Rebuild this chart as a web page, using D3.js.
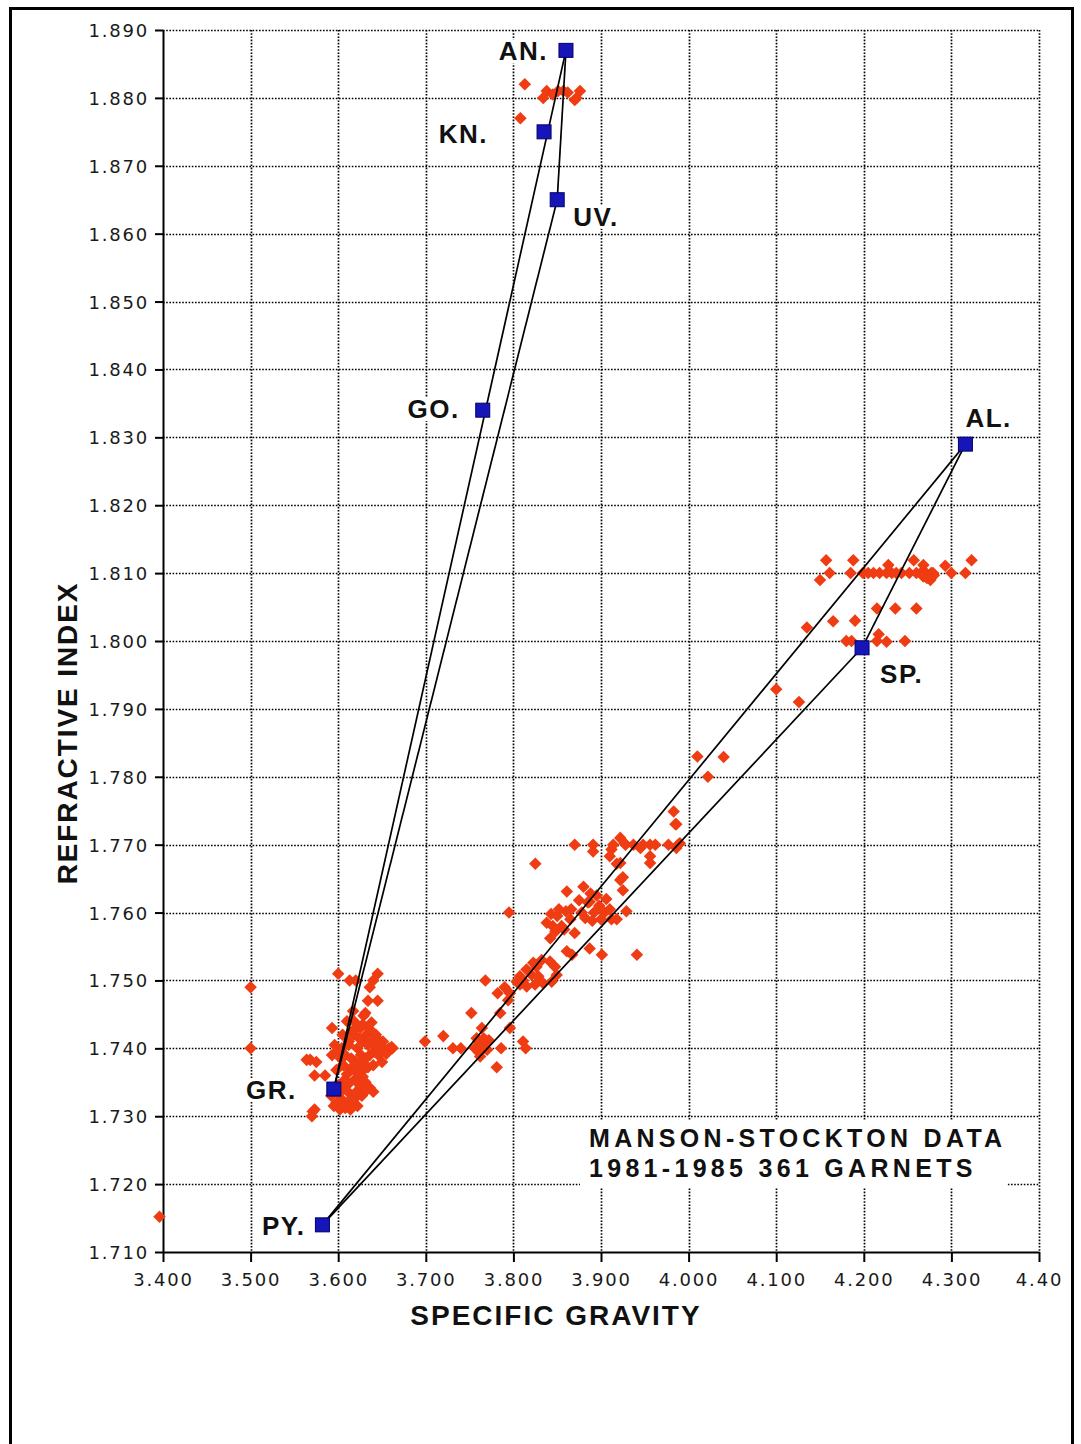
<!DOCTYPE html>
<html>
<head>
<meta charset="utf-8">
<script src="https://cdn.jsdelivr.net/npm/d3@7"></script>
<style>
  body { margin: 0; background: #fff; }
  svg { display: block; }
  .tick-label { font-family: "DejaVu Sans", sans-serif; font-size: 18px; letter-spacing: 1.8px; fill: #1a1a1a; }
  .bold { font-family: "Liberation Sans", Arial, sans-serif; font-weight: bold; fill: #111; }
</style>
</head>
<body>
<script>
const width = 1081,
      height = 1444;

// axis ticks
const xTickValues = [3.4, 3.5, 3.6, 3.7, 3.8, 3.9, 4.0, 4.1, 4.2, 4.3, 4.4];
const xTickLabels = ["3.400", "3.500", "3.600", "3.700", "3.800", "3.900", "4.000", "4.100", "4.200", "4.300", "4.40"];
const yTickValues = [1.71, 1.72, 1.73, 1.74, 1.75, 1.76, 1.77, 1.78, 1.79, 1.80, 1.81, 1.82, 1.83, 1.84, 1.85, 1.86, 1.87, 1.88, 1.89];
const yTickLabels = ["1.710", "1.720", "1.730", "1.740", "1.750", "1.760", "1.770", "1.780", "1.790", "1.800",
                     "1.810", "1.820", "1.830", "1.840", "1.850", "1.860", "1.870", "1.880", "1.890"];

// end members: name, specific gravity, refractive index
const memberNames = ["AN.", "KN.", "UV.", "GO.", "AL.", "SP.", "GR.", "PY."];
const memberSG    = [3.860, 3.835, 3.850, 3.765, 4.316, 4.198, 3.595, 3.582];
const memberRI    = [1.887, 1.875, 1.865, 1.834, 1.829, 1.799, 1.734, 1.714];

// tie lines between end members
const tieLines = [["GR.", "AN."], ["AN.", "UV."], ["UV.", "GR."], ["PY.", "AL."], ["AL.", "SP."], ["SP.", "PY."]];

// measured garnets [SG, RI]
const andraditeGroup = [
  [3.813, 1.882], [3.838, 1.881], [3.834, 1.880], [3.851, 1.881], [3.857, 1.881], [3.872, 1.880],
  [3.876, 1.881], [3.870, 1.8797], [3.808, 1.877], [3.845, 1.8805], [3.862, 1.8808]
];

const grossularGroup = [
  [3.600, 1.751], [3.613, 1.750], [3.620, 1.750], [3.645, 1.751], [3.640, 1.750], [3.636, 1.749],
  [3.634, 1.747], [3.645, 1.747], [3.631, 1.7452], [3.610, 1.744], [3.593, 1.743], [3.625, 1.743],
  [3.617, 1.7455], [3.605, 1.742], [3.612, 1.741], [3.618, 1.742], [3.622, 1.740], [3.628, 1.741],
  [3.632, 1.742], [3.638, 1.741], [3.643, 1.742], [3.648, 1.741], [3.652, 1.740], [3.658, 1.740],
  [3.662, 1.740], [3.608, 1.739], [3.615, 1.7385], [3.620, 1.738], [3.626, 1.739], [3.631, 1.7385],
  [3.636, 1.739], [3.641, 1.7395], [3.646, 1.739], [3.650, 1.738], [3.612, 1.7405], [3.624, 1.7415],
  [3.634, 1.7405], [3.644, 1.740], [3.628, 1.7435], [3.618, 1.744], [3.604, 1.740], [3.640, 1.7375],
  [3.630, 1.737], [3.621, 1.7365], [3.614, 1.737], [3.606, 1.7375], [3.651, 1.741], [3.661, 1.7402],
  [3.616, 1.7425], [3.622, 1.7432], [3.636, 1.7428], [3.642, 1.7412], [3.655, 1.7392], [3.648, 1.7405],
  [3.626, 1.7378], [3.634, 1.7372], [3.610, 1.7362], [3.603, 1.7385], [3.638, 1.7438], [3.629, 1.7448],
  [3.568, 1.7383], [3.575, 1.738], [3.593, 1.739], [3.573, 1.736], [3.585, 1.736], [3.598, 1.7368],
  [3.564, 1.7383], [3.596, 1.7405], [3.600, 1.7395],
  [3.621, 1.7373], [3.619, 1.7354], [3.631, 1.735], [3.636, 1.7342], [3.640, 1.7336], [3.627, 1.733],
  [3.617, 1.733], [3.625, 1.7345], [3.612, 1.7348], [3.628, 1.7358], [3.632, 1.7338],
  [3.592, 1.733], [3.598, 1.732], [3.604, 1.7325], [3.610, 1.732], [3.616, 1.7318], [3.622, 1.7315],
  [3.595, 1.7315], [3.602, 1.731], [3.608, 1.7312], [3.614, 1.731], [3.600, 1.7335], [3.606, 1.734],
  [3.612, 1.7335], [3.618, 1.7325], [3.620, 1.7335], [3.606, 1.7352], [3.599, 1.7345],
  [3.571, 1.7307], [3.570, 1.730], [3.573, 1.731],
  [3.500, 1.749], [3.500, 1.740], [3.396, 1.7152]
];

const pyropeAlmandine = [
  [3.699, 1.741], [3.720, 1.7418], [3.731, 1.740], [3.740, 1.740], [3.752, 1.7452], [3.764, 1.743],
  [3.781, 1.7372], [3.786, 1.740], [3.768, 1.750], [3.782, 1.7481], [3.790, 1.749], [3.785, 1.7452],
  [3.794, 1.7471], [3.796, 1.743], [3.811, 1.741], [3.814, 1.740],
  [3.756, 1.740], [3.760, 1.741], [3.764, 1.7405], [3.768, 1.740], [3.772, 1.7412], [3.760, 1.7395],
  [3.766, 1.7415], [3.770, 1.7398], [3.758, 1.7415], [3.762, 1.7388],
  [3.8075, 1.7506], [3.815, 1.7516], [3.8227, 1.7526], [3.8323, 1.753], [3.8418, 1.7528], [3.8475, 1.752],
  [3.8494, 1.7508], [3.8437, 1.7498], [3.8341, 1.7496], [3.8247, 1.7494], [3.8152, 1.7491], [3.8075, 1.7494],
  [3.8209, 1.7508], [3.8284, 1.7506], [3.8038, 1.7498], [3.811, 1.750], [3.8264, 1.752], [3.796, 1.7481],
  [3.842, 1.7562], [3.861, 1.7543], [3.867, 1.7538], [3.887, 1.7547], [3.901, 1.7538], [3.941, 1.7538],
  [3.845, 1.758], [3.850, 1.7595], [3.855, 1.758], [3.860, 1.7602], [3.865, 1.759], [3.848, 1.7572],
  [3.858, 1.7575], [3.852, 1.7605], [3.843, 1.7598], [3.866, 1.7605], [3.838, 1.7585],
  [3.861, 1.7631], [3.880, 1.7638], [3.887, 1.7616],
  [3.878, 1.760], [3.885, 1.7615], [3.892, 1.760], [3.898, 1.761], [3.904, 1.760], [3.910, 1.7605],
  [3.882, 1.7592], [3.890, 1.7588], [3.900, 1.759], [3.895, 1.7625], [3.906, 1.762], [3.912, 1.759],
  [3.875, 1.7618], [3.888, 1.7628], [3.922, 1.7648], [3.925, 1.7633], [3.929, 1.7602], [3.918, 1.759],
  [3.870, 1.757], [3.825, 1.7672], [3.795, 1.760],
  [3.870, 1.770], [3.891, 1.770], [3.891, 1.769], [3.912, 1.7693], [3.910, 1.7683], [3.922, 1.771],
  [3.927, 1.7702], [3.937, 1.770], [3.945, 1.7695], [3.956, 1.770], [3.962, 1.770], [3.956, 1.7683],
  [3.956, 1.7673], [3.977, 1.770], [3.986, 1.7695], [3.990, 1.7702], [3.985, 1.773], [3.922, 1.7673],
  [3.948, 1.770], [3.918, 1.7672], [3.925, 1.7652], [3.983, 1.7749], [3.986, 1.773], [3.914, 1.770],
  [3.928, 1.770], [3.988, 1.770],
  [4.010, 1.783], [4.040, 1.7829], [4.022, 1.780], [4.100, 1.7929], [4.126, 1.791]
];

const spessartineGroup = [
  [4.157, 1.8119], [4.188, 1.8119], [4.150, 1.809], [4.161, 1.810], [4.185, 1.810],
  [4.199, 1.810], [4.205, 1.810], [4.211, 1.810], [4.218, 1.810], [4.226, 1.810], [4.232, 1.810],
  [4.237, 1.810], [4.243, 1.810], [4.252, 1.810], [4.260, 1.810], [4.265, 1.810], [4.271, 1.810],
  [4.277, 1.810], [4.279, 1.810], [4.300, 1.810], [4.316, 1.810],
  [4.228, 1.8112], [4.257, 1.8119], [4.268, 1.8112], [4.293, 1.8111], [4.323, 1.8119], [4.276, 1.809],
  [4.268, 1.8095], [4.272, 1.8093], [4.280, 1.8097],
  [4.215, 1.8048], [4.236, 1.8048], [4.260, 1.8048], [4.135, 1.802], [4.165, 1.8029], [4.190, 1.803],
  [4.180, 1.800], [4.186, 1.800], [4.217, 1.801], [4.215, 1.800], [4.226, 1.7999], [4.247, 1.800]
];

const noteLines = ["MANSON-STOCKTON DATA", "1981-1985 361 GARNETS"];

const svg = d3.select("body").append("svg")
    .attr("width", width)
    .attr("height", height);

svg.append("rect").attr("width", width).attr("height", height).attr("fill", "#fff");

// page frame (open at the bottom edge of the picture)
svg.append("rect")
    .attr("x", 10.5).attr("y", 8.5)
    .attr("width", 1062).attr("height", 1520)
    .attr("fill", "none").attr("stroke", "#000").attr("stroke-width", 3);

const x = d3.scaleLinear().domain([3.4, 4.4]).range([163, 1039]);
const y = d3.scaleLinear().domain([1.71, 1.89]).range([1252, 30]);

// dotted grid
const grid = svg.append("g")
    .attr("stroke", "#000")
    .attr("stroke-width", 1.7)
    .attr("stroke-dasharray", "1.6,1.6");

grid.selectAll(".vgrid")
  .data(xTickValues.slice(1))
  .enter().append("line")
    .attr("x1", d => Math.round(x(d)) + 0.5).attr("x2", d => Math.round(x(d)) + 0.5)
    .attr("y1", y(1.89)).attr("y2", y(1.71));

grid.selectAll(".hgrid")
  .data(yTickValues.slice(1))
  .enter().append("line")
    .attr("x1", x(3.4)).attr("x2", x(4.4))
    .attr("y1", d => Math.round(y(d)) + 0.5).attr("y2", d => Math.round(y(d)) + 0.5);

// axes
const xAxis = svg.append("g")
    .attr("transform", `translate(0,${y(1.71)})`)
    .call(d3.axisBottom(x)
      .tickValues(xTickValues)
      .tickFormat((d, i) => xTickLabels[i])
      .tickSizeInner(10).tickSizeOuter(0));

const yAxis = svg.append("g")
    .attr("transform", `translate(${x(3.4)},0)`)
    .call(d3.axisLeft(y)
      .tickValues(yTickValues)
      .tickFormat((d, i) => yTickLabels[i])
      .tickSizeInner(8).tickSizeOuter(0));

[xAxis, yAxis].forEach(axis => {
    axis.select(".domain").attr("stroke", "#000").attr("stroke-width", 2);
    axis.selectAll(".tick line").attr("stroke", "#000").attr("stroke-width", 2);
    axis.selectAll(".tick text")
      .attr("class", "tick-label")
      .attr("fill", null)
      .style("font-size", null)
      .style("font-family", null);
    axis.attr("font-size", null).attr("font-family", null);
});

xAxis.selectAll(".tick text").attr("y", 34).attr("dy", 0);
yAxis.selectAll(".tick text").attr("x", -14).attr("dy", "0.36em");

// axis titles
svg.append("text")
    .attr("class", "bold")
    .attr("x", 556).attr("y", 1325)
    .attr("text-anchor", "middle")
    .style("font-size", "28px").style("letter-spacing", "2px")
    .text("SPECIFIC GRAVITY");

svg.append("text")
    .attr("class", "bold")
    .attr("transform", "translate(77,733) rotate(-90)")
    .attr("text-anchor", "middle")
    .style("font-size", "28px").style("letter-spacing", "1.9px")
    .text("REFRACTIVE INDEX");

// measured garnets
const samples = [].concat(andraditeGroup, grossularGroup, pyropeAlmandine, spessartineGroup);
const diamond = d3.symbol().type(d3.symbolDiamond2 || d3.symbolSquare).size(100);

svg.append("g")
  .selectAll("path")
  .data(samples)
  .enter().append("path")
    .attr("d", diamond)
    .attr("transform", d => `translate(${x(d[0])},${y(d[1])})` + (d3.symbolDiamond2 ? "" : " rotate(45)"))
    .attr("fill", "#f03c12");

// end members
const members = memberNames.map((name, i) => ({name, sg: memberSG[i], ri: memberRI[i]}));
const byName = name => members.filter(m => m.name === name)[0];

svg.append("g")
  .selectAll("line")
  .data(tieLines)
  .enter().append("line")
    .attr("x1", d => x(byName(d[0]).sg))
    .attr("y1", d => y(byName(d[0]).ri))
    .attr("x2", d => x(byName(d[1]).sg))
    .attr("y2", d => y(byName(d[1]).ri))
    .attr("stroke", "#000")
    .attr("stroke-width", 1.7);

svg.append("g")
  .selectAll("rect")
  .data(members)
  .enter().append("rect")
    .attr("x", d => x(d.sg) - 7)
    .attr("y", d => y(d.ri) - 7)
    .attr("width", 14).attr("height", 14)
    .attr("fill", "#1515b8")
    .attr("stroke", "#00006a")
    .attr("stroke-width", 1);

// label placement relative to each end member square
const labelOffsets = {
    "AN.": {dx: -18, dy: 10, anchor: "end"},
    "KN.": {dx: -56, dy: 11, anchor: "end"},
    "UV.": {dx: 16, dy: 26, anchor: "start"},
    "GO.": {dx: -23, dy: 8, anchor: "end"},
    "AL.": {dx: 0, dy: -17, anchor: "start"},
    "SP.": {dx: 18, dy: 35, anchor: "start"},
    "GR.": {dx: -37, dy: 10, anchor: "end"},
    "PY.": {dx: -17, dy: 10, anchor: "end"}
};

const labelGroup = svg.append("g");
members.forEach(m => {
    const off = labelOffsets[m.name];
    const g = labelGroup.append("g");
    const bg = g.append("rect").attr("fill", "#fff");
    const t = g.append("text")
      .attr("class", "bold")
      .attr("x", x(m.sg) + off.dx)
      .attr("y", y(m.ri) + off.dy)
      .attr("text-anchor", off.anchor)
      .style("font-size", "26px").style("letter-spacing", "1.5px")
      .text(m.name);
    const b = t.node().getBBox();
    bg.attr("x", b.x - 2).attr("y", b.y + 3).attr("width", b.width + 2).attr("height", b.height - 6);
});

// note box
const note = svg.append("g");
const noteBg = note.append("rect").attr("fill", "#fff");
const noteText = note.append("text")
    .attr("class", "bold")
    .attr("x", 589).attr("y", 1147)
    .style("font-size", "25px").style("letter-spacing", "4.3px");
noteText.selectAll("tspan")
  .data(noteLines)
  .enter().append("tspan")
    .attr("x", 589)
    .attr("dy", (d, i) => i === 0 ? 0 : 30)
    .text(d => d);
const nb = noteText.node().getBBox();
noteBg.attr("x", nb.x - 9).attr("y", nb.y - 3).attr("width", nb.width + 10).attr("height", nb.height + 9);
</script>
</body>
</html>
